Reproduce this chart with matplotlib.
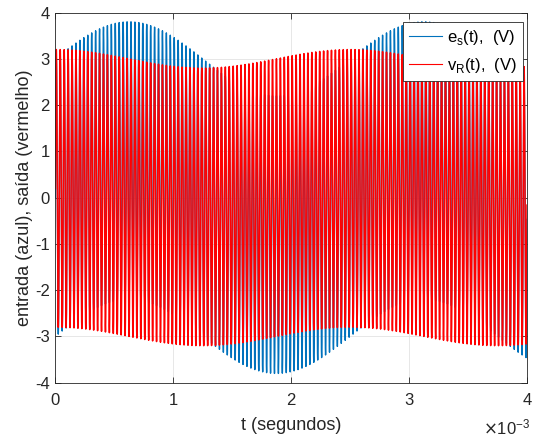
import numpy as np
import matplotlib
matplotlib.use('Agg')
import matplotlib.pyplot as plt
from matplotlib.ticker import ScalarFormatter

# signal parameters (sum of sinusoids)
freqs_hz = [400, 30000]          # slow component, carrier
es_amps = [0.8, 3.0]             # entrada e_s(t)
es_phase_deg = [0, 0]
vr_amps = [0.2, 3.0]             # saida v_R(t)
vr_phase_deg = [90, 0]
t_end = 4e-3
fs = 1.2e6

xticks = [0, 1e-3, 2e-3, 3e-3, 4e-3]
yticks = [-4, -3, -2, -1, 0, 1, 2, 3, 4]

t = np.arange(0, t_end + 1 / fs, 1 / fs)

def signal(amps, phases):
    y = np.zeros_like(t)
    for f, a, p in zip(freqs_hz, amps, phases):
        y += a * np.sin(2 * np.pi * f * t + np.deg2rad(p))
    return y

es = signal(es_amps, es_phase_deg)
vr = signal(vr_amps, vr_phase_deg)

plt.rcParams['font.family'] = ['Liberation Sans', 'DejaVu Sans']
plt.rcParams['axes.unicode_minus'] = False

fig = plt.figure(figsize=(5.35, 4.36), dpi=100)
ax = fig.add_axes([0.1034, 0.1222, 0.8817, 0.8491])

ax.plot(t, es, color='#0072BD', lw=1.0, label=r'e$_\mathregular{s}$(t),  (V)')
ax.plot(t, vr, color='#FF0000', lw=1.1, label=r'v$_\mathregular{R}$(t),  (V)')

ax.set_xlim(0, t_end)
ax.set_ylim(-4, 4)
ax.set_xticks(xticks)
ax.set_yticks(yticks)

# tick labels in units of 1e-3, exponent drawn by hand like MATLAB
fmt = ScalarFormatter(useMathText=True)
fmt.set_powerlimits((0, 0))
ax.xaxis.set_major_formatter(fmt)
ax.xaxis.get_offset_text().set_visible(False)
fig.text(0.992, 0.02, r'$\times\mathregular{10^{-3}}$', ha='right', va='center',
         fontsize=12, color='#262626')

ax.grid(True, color='#e3e3e3', lw=0.6)
ax.set_axisbelow(True)
ax.tick_params(direction='in', top=True, right=True, length=4, width=0.6,
               labelsize=12, colors='#262626')
ax.tick_params(axis='x', pad=7)
ax.tick_params(axis='y', pad=4)
for s in ax.spines.values():
    s.set_color('#262626')
    s.set_linewidth(0.6)

ax.set_xlabel('t (segundos)', fontsize=13, color='#262626', labelpad=6)
ax.set_ylabel('entrada (azul), saída (vermelho)', fontsize=13, color='#262626', labelpad=1)

leg = ax.legend(loc='upper right', fontsize=12, frameon=True, fancybox=False,
                edgecolor='#262626', framealpha=1, borderpad=0.35,
                handlelength=2.0, handletextpad=0.3, labelspacing=0.55,
                borderaxespad=0, bbox_to_anchor=(0.9915, 0.9743))
leg.get_frame().set_linewidth(0.6)
for h in leg.get_lines():
    h.set_linewidth(0.8)

fig.savefig('out.png', dpi=100)
